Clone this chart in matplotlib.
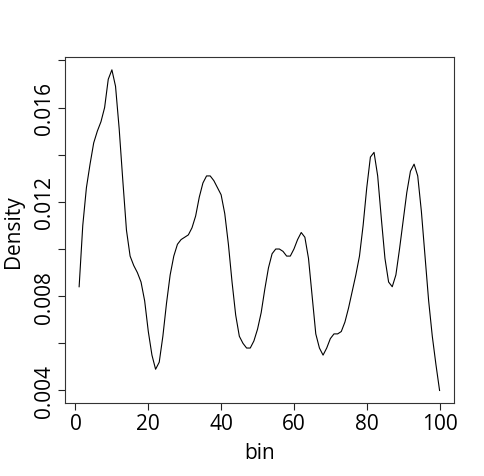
import numpy as np
import matplotlib
matplotlib.use("Agg")
import matplotlib.pyplot as plt

plt.rcParams['font.family'] = ['Open Sans', 'DejaVu Sans']

# Density per bin
bins = np.arange(1, 101)
density = [
    0.0084, 0.0110, 0.0126, 0.0136, 0.0145, 0.0150, 0.0154, 0.0160, 0.0172, 0.0176,
    0.0169, 0.0151, 0.0129, 0.0108, 0.0097, 0.0093, 0.0090, 0.0086, 0.0078, 0.0065,
    0.0055, 0.0049, 0.0052, 0.0063, 0.0077, 0.0089, 0.0097, 0.0102, 0.0104, 0.0105,
    0.0106, 0.0109, 0.0114, 0.0122, 0.0128, 0.0131, 0.0131, 0.0129, 0.0126, 0.0123,
    0.0115, 0.0102, 0.0086, 0.0072, 0.0063, 0.0060, 0.0058, 0.0058, 0.0061, 0.0066,
    0.0073, 0.0083, 0.0092, 0.0098, 0.0100, 0.0100, 0.0099, 0.0097, 0.0097, 0.0100,
    0.0104, 0.0107, 0.0105, 0.0096, 0.0080, 0.0064, 0.0058, 0.0055, 0.0058, 0.0062,
    0.0064, 0.0064, 0.0065, 0.0069, 0.0075, 0.0082, 0.0089, 0.0097, 0.0110, 0.0126,
    0.0139, 0.0141, 0.0131, 0.0113, 0.0096, 0.0086, 0.0084, 0.0089, 0.0100, 0.0112,
    0.0124, 0.0133, 0.0136, 0.0131, 0.0116, 0.0097, 0.0078, 0.0063, 0.0051, 0.0040,
]
x_ticks = [0, 20, 40, 60, 80, 100]
y_ticks = [0.004, 0.006, 0.008, 0.010, 0.012, 0.014, 0.016, 0.018]
y_labels = ["0.004", "", "0.008", "", "0.012", "", "0.016", ""]

fig = plt.figure(figsize=(4.84, 4.77), dpi=100)
ax = fig.add_axes([0.1337, 0.1524, 0.938 - 0.1337, 0.8784 - 0.1524])

ax.plot(bins, density, color="black", linewidth=0.8)

# R style 4% padding
xr = bins.max() - bins.min()
ax.set_xlim(bins.min() - 0.04 * xr, bins.max() + 0.04 * xr)
yr = max(density) - min(density)
ax.set_ylim(min(density) - 0.04 * yr, max(density) + 0.04 * yr)

ax.set_xticks(x_ticks)
ax.set_xticklabels([str(t) for t in x_ticks])
ax.set_yticks(y_ticks)
ax.set_yticklabels(y_labels, rotation=90, va="center")

ax.tick_params(axis="both", direction="out", length=5, width=0.8,
               labelsize=15, pad=2, colors="#222222", labelcolor="black")
for s in ax.spines.values():
    s.set_linewidth(0.8)
    s.set_color("#333333")

ax.set_xlabel("bin", fontsize=15, labelpad=6)
ax.set_ylabel("Density", fontsize=15, labelpad=7)

fig.savefig("out.png", dpi=100)
